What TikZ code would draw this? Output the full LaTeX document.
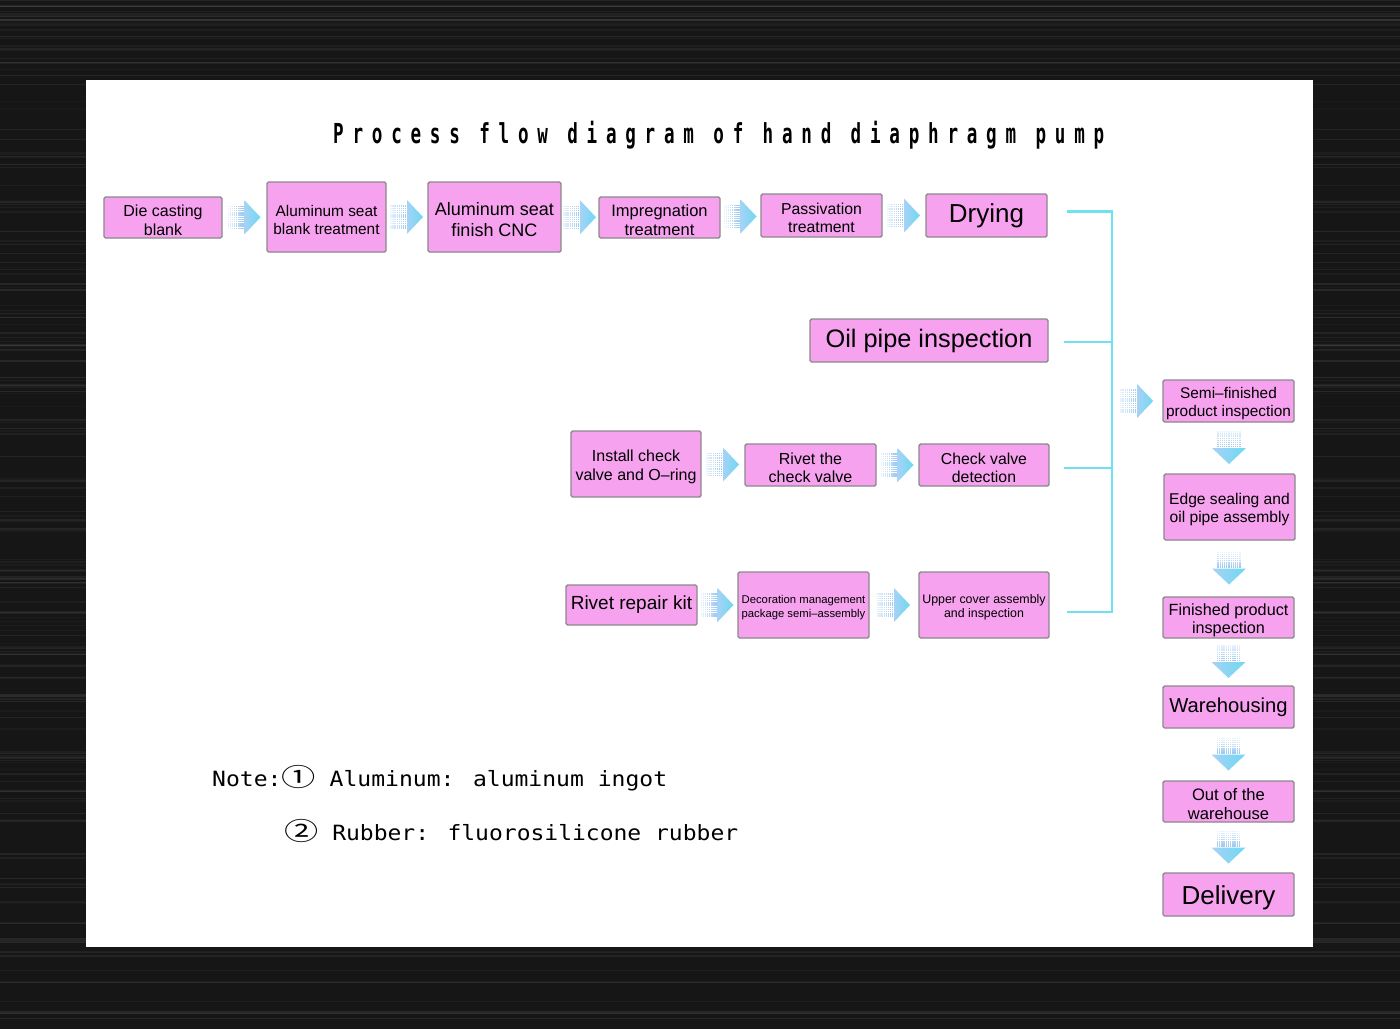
\documentclass[tikz,border=0pt]{standalone}
\usepackage{fontspec}
\usepackage{graphicx}
\setmainfont{Liberation Sans}
\newfontfamily\titlefont[FakeStretch=0.6,LetterSpace=30]{DejaVu Sans Mono}
\newfontfamily\notefont[FakeStretch=0.8]{DejaVu Sans Mono}
\newfontfamily\cjk{Noto Sans CJK SC}
\usetikzlibrary{calc}
\definecolor{bgdark}{HTML}{161616}
\definecolor{boxfill}{HTML}{F6A2EF}
\definecolor{boxborder}{HTML}{8C888C}
\definecolor{buscol}{HTML}{70E1F2}
\definecolor{dotblue}{HTML}{8CC0F0}
\definecolor{headA}{HTML}{A6D2F6}
\definecolor{headB}{HTML}{6ED9F1}
\newcommand\dn{\rule{0pt}{\dimexpr0.74em+5pt\relax}}
\tikzset{
  box/.style={draw=boxborder, fill=boxfill, line width=1.4pt, rounded corners=1.5pt,
              align=center, inner sep=0pt, text=black},
  sz/.style 2 args={minimum width=#1pt, minimum height=#2pt},
  fs/.style 2 args={font=\fontsize{#1}{#2}\selectfont},
  bus/.style={draw=buscol, line width=2.8pt},
  rarr/.pic={
    \foreach \i in {0,...,7}{
      \pgfmathsetmacro\op{0.2+0.09*\i}
      \foreach \j in {0,...,10}{
        \fill[dotblue, opacity=\op] (-16.8+2.1*\i,-11.6+2.2*\j) rectangle ++(1.3,1.3);
      }
    }
    \shade[left color=headA, right color=headB] (0,-17) -- (16,0) -- (0,17) -- cycle;
  }
}
\begin{document}
\begin{tikzpicture}[x=1pt,y=-1pt]
\useasboundingbox (0,0) rectangle (1400,1029);
% brushed dark background
\fill[bgdark] (0,0) rectangle (1400,1029);
\pgfmathsetseed{11}
\foreach \k in {1,...,180}{
  \pgfmathsetmacro\yy{rnd*1029}
  \pgfmathsetmacro\op{0.02+0.06*rnd}
  \pgfmathsetmacro\lw{0.4+1.8*rnd}
  \draw[white, opacity=\op, line width=\lw pt] (0,\yy) -- (1400,\yy);
}
% white panel
\fill[white] (86,80) rectangle (1313,947);

% title
\node[anchor=base west, inner sep=0pt] (title) at (333,143)
  {\resizebox{771pt}{\height}{\titlefont\bfseries\fontsize{27.5}{30}\selectfont Process flow diagram of hand diaphragm pump}};

% row 1
\node[box, sz={118}{41}, fs={16}{18.5}] (d1) at (163,217.5) {\dn Die casting\\blank};
\node[box, sz={119}{70}, fs={15.4}{18}] (d2) at (326.5,217) {\dn Aluminum seat\\blank treatment};
\node[box, sz={133}{70}, fs={18}{21.5}] (d3) at (494.5,217) {\dn Aluminum seat\\finish CNC};
\node[box, sz={121}{41}, fs={16.5}{18.5}] (d4) at (659.5,217.5) {\dn Impregnation\\treatment};
\node[box, sz={121}{43}, fs={15.8}{18}] (d5) at (821.5,215.5) {\dn Passivation\\treatment};
\node[box, sz={121}{43}, fs={26}{30}] (d6) at (986.5,215.5) {Drying};

% oil pipe
\node[box, sz={238}{43}, fs={25.3}{30}] (oil) at (929,340.5) {Oil pipe inspection};

% row 3
\node[box, sz={130}{66}, fs={16}{18.5}] (r1) at (636,464) {\dn Install check\\valve and O\char"2013 ring};
\node[box, sz={131}{42}, fs={16}{18}] (r2) at (810.5,465) {\dn Rivet the\\check valve};
\node[box, sz={130}{42}, fs={15.8}{18}] (r3) at (984,465) {\dn Check valve\\detection};

% row 4
\node[box, sz={131}{40}, fs={19}{22}] (s1) at (631.5,605) {Rivet repair kit};
\node[box, sz={131}{66}, fs={11.3}{13.5}] (s2) at (803.5,605) {\dn Decoration management\\package semi\char"2013 assembly};
\node[box, sz={130}{66}, fs={12.4}{14}] (s3) at (984,605) {\dn Upper cover assembly\\and inspection};

% right column
\node[box, sz={131}{42}, fs={15.4}{18}] (f1) at (1228.5,401) {\dn Semi\char"2013 finished\\product inspection};
\node[box, sz={131}{66}, fs={15.6}{18.5}] (f2) at (1229.5,507) {\dn Edge sealing and\\oil pipe assembly};
\node[box, sz={131}{41}, fs={16.2}{18}] (f3) at (1228.5,617.5) {\dn Finished product\\inspection};
\node[box, sz={131}{42}, fs={20.2}{24}] (f4) at (1228.5,707) {Warehousing};
\node[box, sz={131}{41}, fs={16.6}{18.5}] (f5) at (1228.5,801.5) {\dn Out of the\\warehouse};
\node[box, sz={131}{43}, fs={26}{30}] (f6) at (1228.5,894.5) {\rule{0pt}{25.5pt}Delivery};

% right arrows between boxes
\path ($(d1.east)!0.5!(d2.west)$) pic {rarr};
\path ($(d2.east)!0.5!(d3.west)$) pic {rarr};
\path ($(d3.east)!0.5!(d4.west)$) pic {rarr};
\path ($(d4.east)!0.5!(d5.west)$) pic {rarr};
\path ($(d5.east)!0.5!(d6.west)$) pic {rarr};
\path ($(r1.east)!0.5!(r2.west)$) pic {rarr};
\path ($(r2.east)!0.5!(r3.west)$) pic {rarr};
\path ($(s1.east)!0.5!(s2.west)$) pic {rarr};
\path ($(s2.east)!0.5!(s3.west)$) pic {rarr};

% collecting bus
\coordinate (busx) at (1112,0);
\coordinate (jt) at ([yshift=4pt]d6.east -| busx);
\coordinate (jo) at ([yshift=-1.5pt]oil.east -| busx);
\coordinate (jr) at ([yshift=-3pt]r3.east -| busx);
\coordinate (jb) at ([yshift=-7pt]s3.east -| busx);
\draw[bus] ([xshift=19pt,yshift=4pt]d6.east) -- (jt);
\draw[bus] ([xshift=15pt,yshift=-1.5pt]oil.east) -- (jo);
\draw[bus] ([xshift=14pt,yshift=-3pt]r3.east) -- (jr);
\draw[bus] ([xshift=17pt,yshift=-7pt]s3.east) -- (jb);
\draw[bus, line cap=rect] (jt) -- (jb);

\path ($(f1.west -| busx)!0.5!(f1.west)$) pic {rarr};

% down arrows
\path ($(f1.south)!0.5!(f2.north)$) pic[rotate=-90] {rarr};
\path ($(f2.south)!0.5!(f3.north)$) pic[rotate=-90] {rarr};
\path ($(f3.south)!0.5!(f4.north)$) pic[rotate=-90] {rarr};
\path ($(f4.south)!0.5!(f5.north)$) pic[rotate=-90] {rarr};
\path ($(f5.south)!0.5!(f6.north)$) pic[rotate=-90] {rarr};

% note
\node[anchor=base west, inner sep=0pt] (note1) at (212,786)
  {\resizebox{455pt}{\height}{\notefont\fontsize{21}{24}\selectfont Note:{\cjk\fontsize{25}{25}\selectfont ①} Aluminum: aluminum ingot}};
\node[anchor=base west, inner sep=0pt] (note2) at (284,840)
  {\resizebox{454pt}{\height}{\notefont\fontsize{21}{24}\selectfont {\cjk\fontsize{25}{25}\selectfont ②} Rubber: fluorosilicone rubber}};
\end{tikzpicture}
\end{document}
